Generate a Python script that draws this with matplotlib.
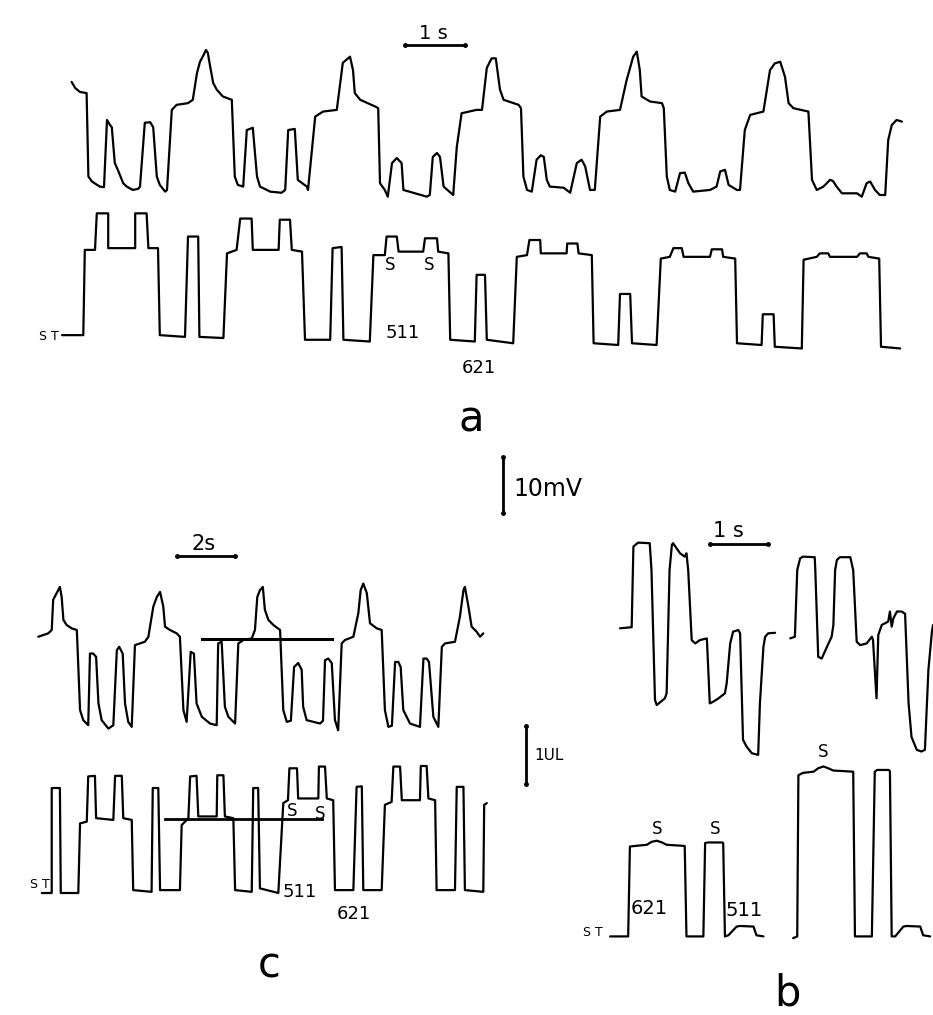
import numpy as np
import matplotlib
matplotlib.use("Agg")
import matplotlib.pyplot as plt

W, H = 933, 1015

# ---- panel a: membrane potential (mV) and volume (uL) vs time (s)
A_TOP = [(0.16, 20.2), (0.22, 19.1), (0.30, 18.4), (0.41, 18.2), (0.44, 3.3), (0.50, 2.4),
         (0.63, 1.5), (0.70, 1.4), (0.75, 13.4), (0.80, 12.5), (0.83, 12.1), (0.88, 5.7),
         (0.93, 4.5), (1.02, 2.1), (1.08, 1.5), (1.18, 0.9), (1.27, 1.1), (1.30, 1.5),
         (1.38, 12.9), (1.47, 13.0), (1.52, 12.1), (1.58, 3.3), (1.63, 1.8), (1.72, 0.6),
         (1.75, 0.9), (1.83, 15.2), (1.91, 16.1), (2.10, 16.4), (2.18, 17.0), (2.25, 21.8),
         (2.30, 23.8), (2.36, 25.0), (2.40, 25.9), (2.43, 25.4), (2.47, 22.9), (2.52, 20.0),
         (2.58, 18.8), (2.68, 17.6), (2.83, 17.0), (2.88, 3.3), (2.93, 1.8), (3.02, 1.5),
         (3.08, 11.6), (3.18, 12.0), (3.25, 3.3), (3.30, 1.5), (3.47, 0.6), (3.66, 0.4),
         (3.72, 0.9), (3.77, 11.6), (3.88, 11.8), (3.93, 2.7), (4.08, 1.5), (4.10, 0.9),
         (4.22, 14.0), (4.35, 14.9), (4.58, 15.2), (4.68, 23.6), (4.80, 24.7), (4.85, 22.3),
         (4.88, 18.2), (4.97, 17.0), (5.22, 15.8), (5.27, 15.5), (5.30, 2.1), (5.38, 0.9),
         (5.43, -0.3), (5.50, 5.7), (5.58, 6.6), (5.66, 5.7), (5.69, 0.9), (5.85, 0.4),
         (6.08, -0.3), (6.13, 0.0), (6.18, 6.8), (6.25, 7.5), (6.30, 6.8), (6.36, 1.5),
         (6.52, 0.0), (6.58, 8.6), (6.66, 14.6), (6.91, 15.2), (7.00, 15.2), (7.08, 22.7),
         (7.16, 24.4), (7.23, 24.4), (7.30, 18.8), (7.36, 17.0), (7.61, 16.1), (7.65, 15.5),
         (7.69, 3.3), (7.75, 0.9), (7.83, 0.6), (7.91, 6.3), (7.98, 7.1), (8.03, 6.8),
         (8.08, 2.7), (8.13, 1.5), (8.36, 1.3), (8.47, 0.4), (8.58, 5.7), (8.66, 6.3),
         (8.72, 5.1), (8.80, 0.9), (8.88, 0.9), (8.97, 14.0), (9.08, 14.9), (9.30, 15.2),
         (9.41, 20.5), (9.52, 24.7), (9.58, 25.6), (9.63, 22.3), (9.66, 17.6), (9.80, 16.7),
         (10.00, 16.4), (10.03, 15.5), (10.08, 3.3), (10.13, 0.9), (10.22, 0.6), (10.30, 3.9),
         (10.38, 4.0), (10.44, 2.1), (10.52, 0.6), (10.80, 0.9), (10.91, 1.5), (10.97, 4.2),
         (11.05, 4.5), (11.11, 1.8), (11.25, 0.9), (11.30, 0.9), (11.38, 11.6), (11.47, 14.3),
         (11.69, 14.9), (11.80, 22.3), (11.88, 23.5), (11.97, 23.8), (12.05, 21.1),
         (12.11, 16.4), (12.19, 15.5), (12.44, 14.9), (12.50, 2.7), (12.58, 0.9), (12.69, 1.5),
         (12.80, 2.7), (12.85, 2.5), (12.91, 1.5), (13.00, 0.3), (13.25, 0.3), (13.33, -0.3),
         (13.41, 2.1), (13.47, 2.4), (13.55, 0.9), (13.63, 0.0), (13.72, 0.0), (13.77, 9.8),
         (13.83, 12.5), (13.91, 13.4), (14.00, 13.1)]

A_BOT = [(0.00, 0.17), (0.355, 0.17), (0.38, 1.64), (0.55, 1.64), (0.58, 2.27), (0.77, 2.27),
         (0.77, 1.67), (1.22, 1.67), (1.22, 2.27), (1.41, 2.27), (1.44, 1.67), (1.60, 1.67),
         (1.63, 0.17), (2.05, 0.14), (2.10, 1.87), (2.27, 1.87), (2.29, 0.14), (2.69, 0.12),
         (2.75, 1.58), (2.91, 1.64), (2.97, 2.18), (3.16, 2.18), (3.18, 1.64), (3.61, 1.64),
         (3.63, 2.16), (3.80, 2.16), (3.83, 1.64), (4.00, 1.61), (4.05, 0.09), (4.47, 0.09),
         (4.51, 1.67), (4.66, 1.69), (4.69, 0.09), (5.13, 0.06), (5.19, 1.55), (5.38, 1.55),
         (5.41, 1.87), (5.58, 1.87), (5.61, 1.61), (6.02, 1.61), (6.05, 1.84), (6.25, 1.84),
         (6.27, 1.61), (6.44, 1.58), (6.47, 0.09), (6.88, 0.06), (6.91, 1.21), (7.05, 1.21),
         (7.08, 0.09), (7.52, 0.03), (7.58, 1.52), (7.75, 1.55), (7.79, 1.81), (7.97, 1.81),
         (7.98, 1.58), (8.41, 1.58), (8.42, 1.75), (8.59, 1.75), (8.61, 1.58), (8.83, 1.55),
         (8.86, 0.03), (9.27, 0.00), (9.30, 0.88), (9.47, 0.88), (9.50, 0.03), (9.91, 0.00),
         (9.98, 1.49), (10.13, 1.52), (10.19, 1.67), (10.33, 1.67), (10.36, 1.52), (10.80, 1.52),
         (10.83, 1.65), (11.00, 1.65), (11.02, 1.52), (11.22, 1.49), (11.25, 0.03), (11.66, 0.00),
         (11.68, 0.53), (11.86, 0.53), (11.88, -0.03), (12.33, -0.06), (12.36, 1.47),
         (12.58, 1.52), (12.63, 1.58), (12.77, 1.58), (12.80, 1.52), (13.25, 1.52), (13.30, 1.58),
         (13.41, 1.58), (13.44, 1.52), (13.62, 1.49), (13.65, -0.03), (13.97, -0.06)]

# ---- panel c
C_TOP = [(0.01, 16.3), (0.18, 16.6), (0.35, 16.9), (0.47, 17.5), (0.52, 22.9), (0.64, 24.1),
         (0.75, 25.2), (0.81, 23.4), (0.87, 19.3), (0.98, 18.4), (1.15, 17.8), (1.33, 17.5),
         (1.44, 3.2), (1.55, 1.4), (1.72, 0.5), (1.78, 13.3), (1.89, 13.3), (1.99, 12.7),
         (2.07, 4.4), (2.18, 1.4), (2.41, -0.1), (2.58, 0.5), (2.70, 13.9), (2.78, 14.5),
         (2.90, 13.3), (2.98, 4.4), (3.09, 1.1), (3.21, 0.2), (3.32, 14.8), (3.49, 15.1),
         (3.66, 15.4), (3.78, 16.3), (3.95, 21.7), (4.07, 23.4), (4.18, 24.3), (4.29, 21.7),
         (4.35, 18.1), (4.52, 17.5), (4.75, 16.9), (4.86, 16.3), (4.98, 3.2), (5.09, 1.1),
         (5.23, 13.6), (5.34, 13.3), (5.43, 4.4), (5.61, 2.0), (5.89, 0.8), (6.12, 0.5),
         (6.17, 15.1), (6.29, 15.4), (6.40, 3.8), (6.52, 2.0), (6.75, 0.8), (6.86, 15.1),
         (7.03, 15.7), (7.32, 16.0), (7.43, 17.5), (7.51, 23.4), (7.60, 24.6), (7.70, 25.2),
         (7.77, 21.1), (7.89, 19.3), (8.06, 18.4), (8.29, 17.5), (8.40, 3.2), (8.52, 1.1),
         (8.66, 1.3), (8.77, 10.9), (8.91, 11.6), (9.03, 10.4), (9.08, 3.8), (9.20, 1.4),
         (9.66, 0.8), (9.76, 1.3), (9.83, 12.1), (9.94, 12.4), (10.06, 11.6), (10.17, 1.4),
         (10.28, -0.4), (10.40, 15.1), (10.51, 15.7), (10.80, 16.3), (10.97, 20.5),
         (11.05, 24.6), (11.14, 25.8), (11.26, 24.1), (11.37, 18.7), (11.60, 17.8),
         (11.77, 17.5), (11.88, 3.2), (12.00, 0.2), (12.12, 0.4), (12.23, 11.8), (12.34, 11.8),
         (12.42, 10.9), (12.51, 3.2), (12.74, 0.8), (13.08, 0.2), (13.20, 12.4), (13.31, 12.4),
         (13.39, 11.8), (13.54, 2.0), (13.71, 0.2), (13.83, 14.5), (13.94, 15.1), (14.28, 15.4),
         (14.45, 19.9), (14.57, 24.6), (14.62, 25.2), (14.74, 21.7), (14.85, 18.1),
         (15.02, 17.2), (15.14, 16.3), (15.25, 16.9)]
C_TOP_REF_T = [5.61, 10.06]
C_TOP_REF_MV = 15.9

C_BOT = [(0.13, 0.00), (0.47, 0.00), (0.47, 1.81), (0.75, 1.81), (0.78, 0.00), (1.38, 0.00),
         (1.44, 1.20), (1.67, 1.23), (1.72, 2.01), (1.95, 2.02), (1.99, 1.29), (2.58, 1.26),
         (2.64, 2.02), (2.87, 2.02), (2.92, 1.29), (3.21, 1.26), (3.26, 0.05), (3.89, 0.02),
         (3.93, 1.81), (4.12, 1.81), (4.18, 0.05), (4.86, 0.05), (4.92, 1.17), (5.15, 1.29),
         (5.21, 2.01), (5.43, 2.02), (5.49, 1.32), (6.12, 1.32), (6.14, 2.03), (6.35, 2.03),
         (6.40, 1.32), (6.69, 1.29), (6.75, 0.05), (7.32, 0.02), (7.37, 1.81), (7.54, 1.81),
         (7.60, 0.08), (8.23, 0.00), (8.40, 1.55), (8.56, 1.60), (8.61, 2.15), (8.87, 2.15),
         (8.91, 1.63), (9.60, 1.63), (9.62, 2.18), (9.83, 2.18), (9.89, 1.63), (10.11, 1.60),
         (10.17, 0.05), (10.80, 0.05), (10.91, 1.83), (11.09, 1.84), (11.14, 0.05),
         (11.77, 0.05), (11.88, 1.52), (12.11, 1.57), (12.17, 2.18), (12.40, 2.18),
         (12.46, 1.60), (13.08, 1.60), (13.11, 2.19), (13.31, 2.19), (13.37, 1.63),
         (13.60, 1.60), (13.65, 0.05), (14.28, 0.05), (14.34, 1.83), (14.57, 1.83),
         (14.62, 0.05), (15.25, 0.02), (15.28, 1.52), (15.37, 1.55)]
C_BOT_REF_T = [4.35, 9.73]
C_BOT_REF_UL = 1.28

# ---- panel b (two separate records)
B_TOP_1 = [(0.00, 22.8), (0.20, 23.0), (0.23, 37.4), (0.31, 38.1), (0.51, 38.0), (0.54, 33.2),
           (0.60, 10.0), (0.63, 9.1), (0.77, 10.3), (0.80, 11.2), (0.85, 33.2), (0.89, 37.7),
           (0.91, 38.0), (1.03, 36.2), (1.11, 35.6), (1.14, 36.2), (1.17, 33.2), (1.23, 20.7),
           (1.29, 20.1), (1.37, 20.7), (1.49, 21.0), (1.54, 9.4), (1.60, 9.7), (1.69, 10.3),
           (1.80, 11.2), (1.83, 13.0), (1.89, 20.1), (1.94, 22.2), (2.03, 22.5), (2.06, 21.9),
           (2.11, 2.9), (2.17, 1.7), (2.26, 0.5), (2.37, 0.2), (2.40, 9.4), (2.46, 19.5),
           (2.49, 21.3), (2.54, 21.9), (2.66, 22.0)]
B_TOP_2 = [(2.92, 21.0), (3.00, 21.3), (3.04, 33.2), (3.09, 35.3), (3.14, 35.6), (3.34, 35.5),
           (3.35, 33.2), (3.40, 17.7), (3.46, 17.4), (3.55, 19.5), (3.63, 21.3), (3.66, 23.4),
           (3.69, 33.2), (3.72, 35.0), (3.77, 35.5), (3.95, 35.5), (4.00, 33.2), (4.06, 20.4),
           (4.12, 19.8), (4.23, 20.1), (4.32, 21.3), (4.34, 20.7), (4.37, 15.4), (4.40, 10.3),
           (4.43, 21.6), (4.49, 23.4), (4.60, 24.0), (4.63, 25.8), (4.66, 23.1), (4.69, 24.6),
           (4.75, 25.8), (4.83, 25.8), (4.89, 25.4), (4.95, 9.4), (5.00, 3.4), (5.09, 1.1),
           (5.17, 0.8), (5.23, 1.1), (5.29, 15.4), (5.35, 22.2), (5.37, 23.4)]
B_BOT_1 = [(-0.17, 0.01), (0.14, 0.01), (0.17, 1.56), (0.26, 1.57), (0.46, 1.59), (0.54, 1.64),
           (0.63, 1.66), (0.72, 1.63), (0.80, 1.59), (1.11, 1.57), (1.14, 0.01), (1.43, 0.01),
           (1.46, 1.62), (1.51, 1.63), (1.75, 1.63), (1.77, 1.62), (1.80, 0.01), (1.86, 0.03),
           (2.00, 0.18), (2.06, 0.19), (2.29, 0.18), (2.34, 0.03), (2.46, 0.01)]
B_BOT_2 = [(2.97, -0.02), (3.04, 0.01), (3.06, 2.79), (3.14, 2.83), (3.32, 2.85), (3.40, 2.91),
           (3.49, 2.94), (3.57, 2.91), (3.66, 2.87), (4.00, 2.85), (4.03, 0.01), (4.32, 0.01),
           (4.37, 2.85), (4.41, 2.88), (4.61, 2.88), (4.63, 2.86), (4.66, 0.01), (4.72, 0.01),
           (4.86, 0.18), (4.92, 0.19), (5.15, 0.18), (5.20, 0.03), (5.32, 0.01)]

# recording scales: px per mV, px per uL
PX_MV, PX_UL = 5.6, 58.0

fig = plt.figure(figsize=(W / 100, H / 100), dpi=100)
plt.rcParams["font.family"] = ["DejaVu Sans"]


def trace_axes(x0, y0, sx, sy):
    # full-figure axes whose origin (t=0, v=0) sits at pixel (x0, y0)
    ax = fig.add_axes([0, 0, 1, 1])
    ax.set_xlim(-x0 / sx, (W - x0) / sx)
    ax.set_ylim(-(H - y0) / sy, y0 / sy)
    ax.axis("off")
    return ax


def draw(ax, pts, lw=1.6):
    t, v = np.array(pts).T
    ax.plot(t, v, color="black", lw=lw, solid_joinstyle="round", solid_capstyle="round")


# px per second for each recording
A_SX, C_SX, B_SX = 60.0, 29.2, 58.3

draw(trace_axes(62, 195, A_SX, PX_MV), A_TOP)
draw(trace_axes(62, 345, A_SX, PX_UL), A_BOT)

c_top = trace_axes(38, 728, C_SX, PX_MV)
draw(c_top, C_TOP)
c_top.plot(C_TOP_REF_T, [C_TOP_REF_MV] * 2, color="black", lw=2.2)
c_bot = trace_axes(38, 893, C_SX, PX_UL)
draw(c_bot, C_BOT)
c_bot.plot(C_BOT_REF_T, [C_BOT_REF_UL] * 2, color="black", lw=2.0)

b_top = trace_axes(620, 756, B_SX, PX_MV)
draw(b_top, B_TOP_1)
draw(b_top, B_TOP_2)
b_bot = trace_axes(620, 937, B_SX, PX_UL)
draw(b_bot, B_BOT_1)
draw(b_bot, B_BOT_2)

# annotation layer in pixel coordinates
ann = fig.add_axes([0, 0, 1, 1])
ann.set_xlim(0, W)
ann.set_ylim(H, 0)
ann.axis("off")


def hbar(x, y, length):
    ann.plot([x, x + length], [y, y], color="black", lw=2.0)
    ann.plot([x, x + length], [y, y], "o", color="black", ms=2.5)


def vbar(x, y, length):
    ann.plot([x, x], [y, y + length], color="black", lw=2.0)
    ann.plot([x, x], [y, y + length], "o", color="black", ms=2.5)


hbar(405, 45, 1 * A_SX)
hbar(177, 556, 2 * C_SX)
hbar(710, 544, 1 * B_SX)
vbar(503, 457, 10 * PX_MV)
vbar(526, 726, 1 * PX_UL)


def label(x, y, s, size=14, ha="center"):
    ann.text(x, y, s, ha=ha, va="center", fontsize=size, color="black")


label(433, 33, "1 s", 14)
label(204, 544, "2s", 15)
label(728, 531, "1 s", 15)
label(513, 489, "10mV", 17, ha="left")
label(534, 755, "1UL", 11, ha="left")

# panel a labels
label(59, 336, "S T", 9, ha="right")
label(390, 265, "S", 12)
label(429, 265, "S", 12)
label(403, 333, "511", 13)
label(479, 368, "621", 13)
label(471, 420, "a", 30)

# panel c labels
label(50, 885, "S T", 9, ha="right")
label(292, 811, "S", 12)
label(320, 814, "S", 12)
label(300, 892, "511", 13)
label(354, 914, "621", 13)
label(269, 966, "c", 30)

# panel b labels
label(603, 933, "S T", 9, ha="right")
label(657, 829, "S", 12)
label(715, 829, "S", 12)
label(823, 752, "S", 12)
label(649, 909, "621", 14)
label(744, 910, "511", 14)
label(787, 994, "b", 30)

fig.savefig("out.png", dpi=100, facecolor="white")
